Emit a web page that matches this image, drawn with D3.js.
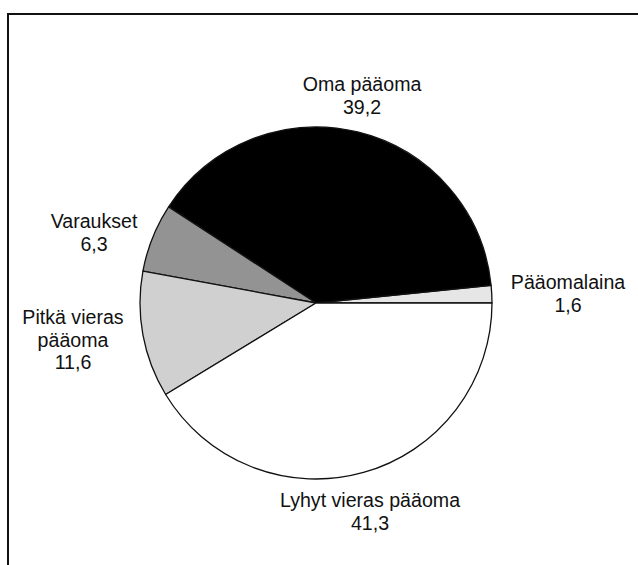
<!DOCTYPE html>
<html>
<head>
<meta charset="utf-8">
<script src="https://cdn.jsdelivr.net/npm/d3@7"></script>
<style>
  html, body { margin: 0; padding: 0; background: #fff; }
  svg { display: block; }
</style>
</head>
<body>
<div id="chart"></div>
<script>
// slices, counter-clockwise from 3 o'clock
const categories = ['Pääomalaina', 'Oma pääoma', 'Varaukset', 'Pitkä vieras pääoma', 'Lyhyt vieras pääoma'];
const values = [1.6, 39.2, 6.3, 11.6, 41.3];
const valueLabels = ['1,6', '39,2', '6,3', '11,6', '41,3'];
const labelLines = [
  ['Pääomalaina'],
  ['Oma pääoma'],
  ['Varaukset'],
  ['Pitkä vieras', 'pääoma'],
  ['Lyhyt vieras pääoma'],
];

const fills = ['#e6e6e6', '#000000', '#939393', '#d0d0d0', '#ffffff'];
// first-baseline offset of each label from the pie centre
const labelOffsets = [[252, -14], [46, -212], [-222, -75], [-243, 21], [54, 204]];

const width = 638;
const height = 565;
const cx = 316, cy = 303, radius = 176;
const lineHeight = 22.5;

const svg = d3.select('#chart')
  .append('svg')
  .attr('width', width)
  .attr('height', height);

// frame (runs off the right and bottom of the picture)
svg.append('rect')
  .attr('x', 8)
  .attr('y', 14)
  .attr('width', width + 20)
  .attr('height', height + 20)
  .attr('fill', 'none')
  .attr('stroke', '#111')
  .attr('stroke-width', 2);

const pie = d3.pie()
  .sort(null)
  .value((d) => d)
  .startAngle(Math.PI / 2)
  .endAngle(Math.PI / 2 - 2 * Math.PI);

const arc = d3.arc().innerRadius(0).outerRadius(radius);

const g = svg.append('g').attr('transform', `translate(${cx},${cy})`);

g.selectAll('path')
  .data(pie(values))
  .enter()
  .append('path')
  .attr('d', arc)
  .attr('fill', (d, i) => fills[i])
  .attr('stroke', '#111')
  .attr('stroke-width', 1.3)
  .attr('stroke-linejoin', 'round');

const labels = g.selectAll('text')
  .data(categories)
  .enter()
  .append('text')
  .attr('text-anchor', 'middle')
  .attr('font-family', '"Liberation Sans", Arial, Helvetica, sans-serif')
  .attr('font-size', '19.6px')
  .attr('fill', '#111')
  .attr('transform', (d, i) => `translate(${labelOffsets[i][0]},${labelOffsets[i][1]})`);

labels.each(function (d, i) {
  const t = d3.select(this);
  const lines = labelLines[i].concat([valueLabels[i]]);
  lines.forEach((line, j) => {
    t.append('tspan')
      .attr('x', 0)
      .attr('y', j * lineHeight)
      .text(line);
  });
});
</script>
</body>
</html>
